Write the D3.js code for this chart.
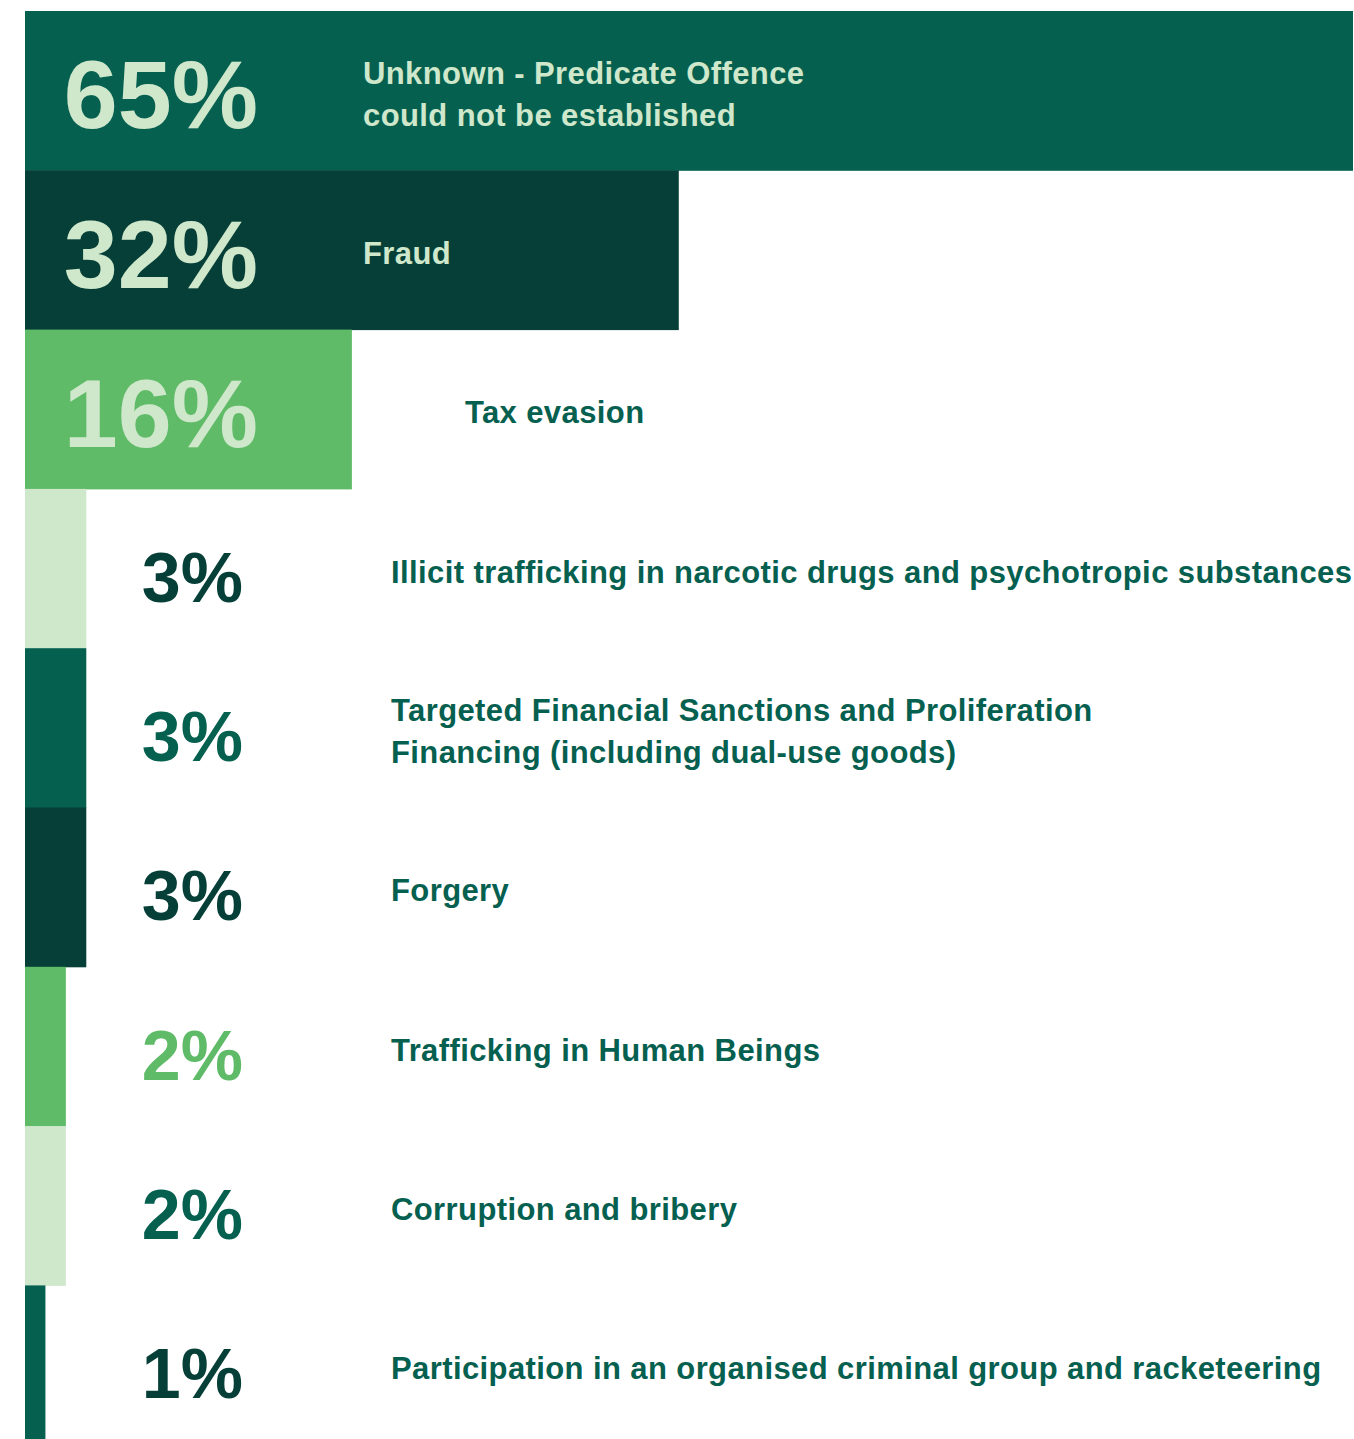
<!DOCTYPE html>
<html>
<head>
<meta charset="utf-8">
<script src="https://cdn.jsdelivr.net/npm/d3@7"></script>
<style>
  html, body { margin: 0; padding: 0; background: #fff; overflow: hidden; }
  svg { display: block; font-family: "Liberation Sans", Arial, Helvetica, sans-serif; }
</style>
</head>
<body>
<svg id="chart" width="1354" height="1439"></svg>
<script>
(function() {
  'use strict';

  // Data
  const categories = [
    ['Unknown - Predicate Offence', 'could not be established'],
    ['Fraud'],
    ['Tax evasion'],
    ['Illicit trafficking in narcotic drugs and psychotropic substances'],
    ['Targeted Financial Sanctions and Proliferation', 'Financing (including dual-use goods)'],
    ['Forgery'],
    ['Trafficking in Human Beings'],
    ['Corruption and bribery'],
    ['Participation in an organised criminal group and racketeering']
  ];
  const shares = [65, 32, 16, 3, 3, 3, 2, 2, 1];

  // Palette
  const barColors = ['#066050', '#053f37', '#5fbb67', '#cfe7cb'];
  const pctColors = ['#cfe7cb', '#cfe7cb', '#cfe7cb', '#053f37', '#066050', '#053f37', '#5fbb67', '#066050', '#053f37'];
  const lightText = '#cfe7cb';
  const darkText = '#066050';

  const width = 1354;
  const left = 25;
  const top = 11;
  const rowH = 159.3;

  const svg = d3.select('#chart');
  const idx = d3.range(shares.length);

  const x = d3.scaleLinear().domain([0, 65]).range([0, width - 1 - left]);
  const y = d3.scaleBand().domain(idx).range([top, top + rowH * shares.length]).paddingInner(0);

  // Bars
  svg.selectAll('rect.bar')
    .data(idx)
    .join('rect')
    .attr('class', 'bar')
    .attr('x', left)
    .attr('y', i => y(i))
    .attr('width', i => x(shares[i]))
    .attr('height', y.bandwidth() + 0.5)
    .attr('fill', i => barColors[i % barColors.length]);

  // Percent values
  const bigFs = 97, smallFs = 70;
  svg.selectAll('text.pct')
    .data(idx)
    .join('text')
    .attr('class', 'pct')
    .attr('text-anchor', 'end')
    .attr('x', i => shares[i] >= 10 ? 258 : 243)
    .attr('y', i => {
      const big = shares[i] >= 10;
      const fs = big ? bigFs : smallFs;
      const c = y(i) + y.bandwidth() / 2 + (big ? 3 : 8);
      return c + fs * 0.716 / 2;
    })
    .attr('font-size', i => shares[i] >= 10 ? bigFs : smallFs)
    .attr('font-weight', 700)
    .attr('fill', i => pctColors[i])
    .text(i => shares[i] + '%');

  // Category labels
  const labelFs = 31;
  const lineGap = 42;
  function labelX(i) {
    const barEnd = left + x(shares[i]);
    if (barEnd > 600) return 363;           // label sits inside the bar
    if (barEnd > 300) return barEnd + 113;  // wide bar, label just outside
    return 391;
  }

  const labels = svg.selectAll('text.label')
    .data(idx)
    .join('text')
    .attr('class', 'label')
    .attr('font-size', labelFs)
    .attr('font-weight', 700)
    .attr('letter-spacing', 0.4)
    .attr('fill', i => (left + x(shares[i]) > 600) ? lightText : darkText)
    .attr('x', i => labelX(i))
    .attr('y', i => {
      const n = categories[i].length;
      const c = y(i) + y.bandwidth() / 2 + 3;
      return c - (n - 1) * lineGap / 2 + labelFs * 0.716 / 2;
    });

  labels.selectAll('tspan')
    .data(i => categories[i].map((t, k) => ({ t, k, i })))
    .join('tspan')
    .attr('x', d => labelX(d.i))
    .attr('dy', d => d.k === 0 ? 0 : lineGap)
    .text(d => d.t);
})();
</script>
</body>
</html>
